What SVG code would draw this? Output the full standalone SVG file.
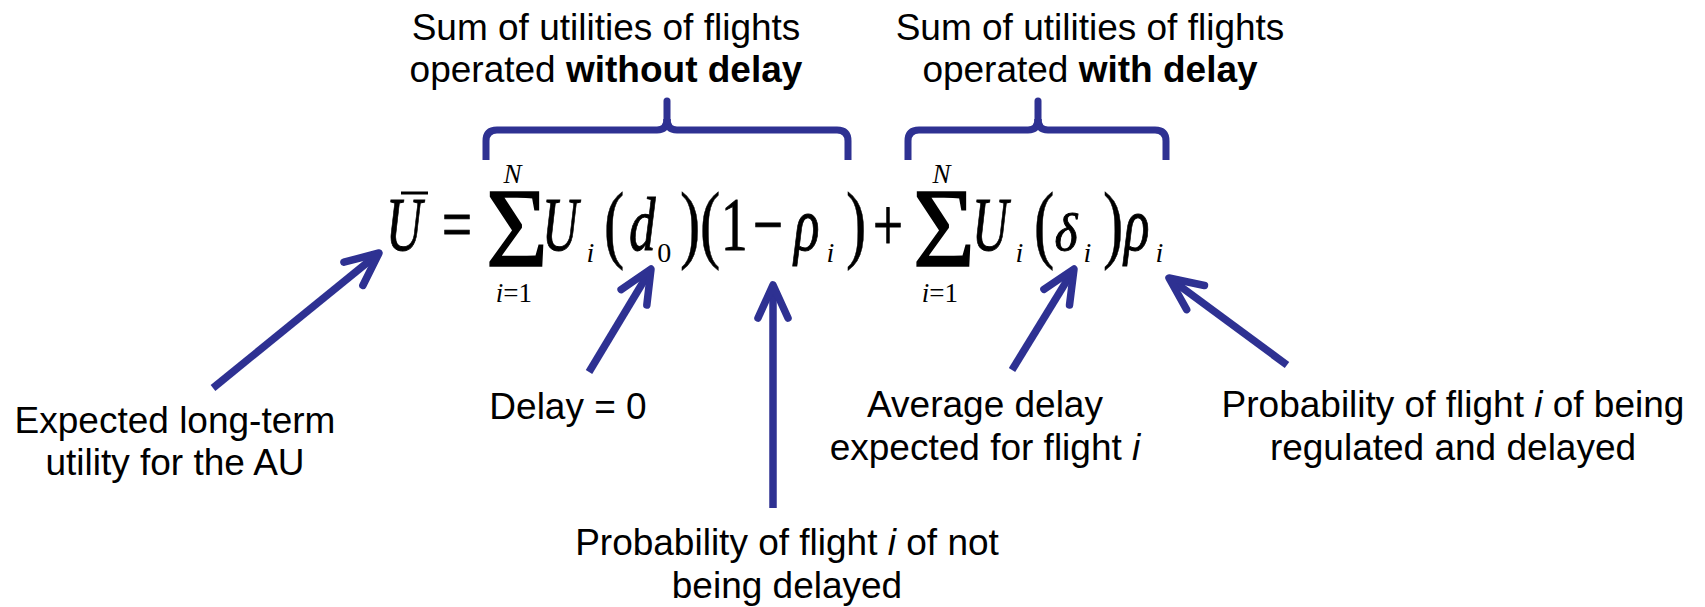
<svg xmlns="http://www.w3.org/2000/svg" width="1705" height="607" viewBox="0 0 1705 607">
<style>
.lbl{font-family:"Liberation Sans",Arial,sans-serif;font-size:37px;fill:#000;text-anchor:middle}
.b{font-weight:bold}
.it{font-style:italic}
.m{font-family:"Liberation Serif","Times New Roman",serif;font-size:76px;fill:#000;stroke:#000;stroke-width:0.9}
.mi{font-family:"Liberation Serif","Times New Roman",serif;font-size:76px;font-style:italic;fill:#000;stroke:#000;stroke-width:0.9}
.p{font-family:"Liberation Serif","Times New Roman",serif;font-size:87px;fill:#000;stroke:#000;stroke-width:0.6}
.s{font-family:"Liberation Serif","Times New Roman",serif;font-size:28px;fill:#000}
.l{font-family:"Liberation Serif","Times New Roman",serif;font-size:27px;fill:#000}
.sig{font-family:"Liberation Serif","Times New Roman",serif;font-size:112px;fill:#000;stroke:#000;stroke-width:1.6}
.br{fill:none;stroke:#2E3192;stroke-width:7;stroke-linejoin:round}
.arr{fill:none;stroke:#2E3192;stroke-width:7.5;marker-end:url(#ah)}
</style>
<defs>
<marker id="ah" markerUnits="userSpaceOnUse" viewBox="-45 -25 50 50" refX="0" refY="0" markerWidth="50" markerHeight="50" orient="auto">
<path d="M-33,-15 L0,0 L-33,15" fill="none" stroke="#2E3192" stroke-width="7.5" stroke-linecap="round" stroke-linejoin="round"/>
</marker>
</defs>
<rect width="1705" height="607" fill="#fff"/>

<g id="label-sum-without">
<text class="lbl" x="606" y="40">Sum of utilities of flights</text>
<text class="lbl" x="606" y="82">operated <tspan class="b">without delay</tspan></text>
</g>
<g id="label-sum-with">
<text class="lbl" x="1090" y="40">Sum of utilities of flights</text>
<text class="lbl" x="1090" y="82">operated <tspan class="b">with delay</tspan></text>
</g>

<g id="brace-without">
<path class="br" d="M486,160 V141 Q486,130 497,130 H657 Q667,130 667,119"/>
<path class="br" d="M667,119 Q667,130 677,130 H837 Q848,130 848,141 V160"/>
<path class="br" d="M667,121 V101" stroke-linecap="round"/>
</g>
<g id="brace-with">
<path class="br" d="M908,160 V141 Q908,130 919,130 H1028 Q1038,130 1038,119"/>
<path class="br" d="M1038,119 Q1038,130 1048,130 H1155 Q1166,130 1166,141 V160"/>
<path class="br" d="M1038,121 V101" stroke-linecap="round"/>
</g>

<g id="equation">
<text class="mi" transform="translate(386,250) scale(0.66,1)">U</text>
<line x1="401" y1="193" x2="428" y2="193" stroke="#000" stroke-width="3"/>
<text class="m" transform="translate(442,250) scale(0.7,1)">=</text>
<text class="sig" transform="translate(486,266) scale(0.95,1)">Σ</text>
<text class="l" x="503.5" y="183" font-style="italic">N</text>
<text class="l" x="495.7" y="302"><tspan font-style="italic">i</tspan>=1</text>
<text class="mi" transform="translate(542,250) scale(0.66,1)">U</text>
<text class="s" x="586.6" y="262" font-style="italic">i</text>
<text class="p" transform="translate(604,251.6) scale(0.7,1)">(</text>
<text class="mi" transform="translate(629,250) scale(0.7,1)">d</text>
<text class="s" x="657.3" y="262">0</text>
<text class="p" transform="translate(680,251.6) scale(0.7,1)">)</text>
<text class="p" transform="translate(700,251.6) scale(0.7,1)">(</text>
<text class="m" transform="translate(721,250) scale(0.7,1)">1</text>
<text class="m" transform="translate(753,250) scale(0.7,1)">−</text>
<text class="mi" transform="translate(794,250) scale(0.7,1)">ρ</text>
<text class="s" x="826.6" y="262" font-style="italic">i</text>
<text class="p" transform="translate(846,251.6) scale(0.7,1)">)</text>
<text class="m" transform="translate(873,250) scale(0.7,1)">+</text>
<text class="sig" transform="translate(913,266) scale(0.95,1)">Σ</text>
<text class="l" x="932.5" y="183" font-style="italic">N</text>
<text class="l" x="921.7" y="302"><tspan font-style="italic">i</tspan>=1</text>
<text class="mi" transform="translate(972,250) scale(0.66,1)">U</text>
<text class="s" x="1015.6" y="262" font-style="italic">i</text>
<text class="p" transform="translate(1034,251.6) scale(0.7,1)">(</text>
<text class="mi" style="font-size:52px" transform="translate(1054.5,250) scale(0.95,1)">δ</text>
<text class="s" x="1083.6" y="262" font-style="italic">i</text>
<text class="p" transform="translate(1103,251.6) scale(0.7,1)">)</text>
<text class="mi" transform="translate(1124,250) scale(0.7,1)">ρ</text>
<text class="s" x="1155.6" y="262" font-style="italic">i</text>
</g>

<g id="label-expected">
<text class="lbl" x="175" y="433">Expected long-term</text>
<text class="lbl" x="175" y="475">utility for the AU</text>
</g>
<g id="label-delay0">
<text class="lbl" x="568" y="419">Delay = 0</text>
</g>
<g id="label-not-delayed">
<text class="lbl" x="787" y="555">Probability of flight <tspan class="it">i</tspan> of not</text>
<text class="lbl" x="787" y="598">being delayed</text>
</g>
<g id="label-average">
<text class="lbl" x="985" y="417">Average delay</text>
<text class="lbl" x="985" y="460">expected for flight <tspan class="it">i</tspan></text>
</g>
<g id="label-regulated">
<text class="lbl" x="1453" y="417">Probability of flight <tspan class="it">i</tspan> of being</text>
<text class="lbl" x="1453" y="460">regulated and delayed</text>
</g>

<g id="connectors">
<line class="arr" x1="213" y1="388" x2="379" y2="253"/>
<line class="arr" x1="589" y1="372" x2="651" y2="269"/>
<line class="arr" x1="773" y1="508" x2="773" y2="285"/>
<line class="arr" x1="1012" y1="370" x2="1074" y2="269"/>
<line class="arr" x1="1287" y1="365" x2="1169" y2="278"/>
</g>
</svg>
